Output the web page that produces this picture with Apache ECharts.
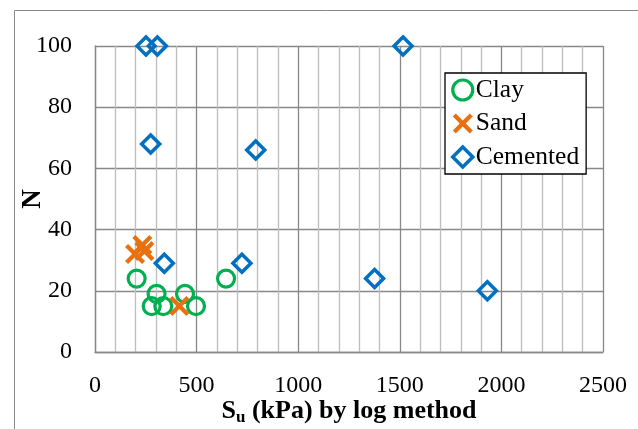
<!DOCTYPE html>
<html>
<head>
<meta charset="utf-8">
<script src="https://cdn.jsdelivr.net/npm/echarts@6/dist/echarts.min.js"></script>
<style>
html,body{margin:0;padding:0;background:#fff;}
#chart{width:638px;height:429px;}
</style>
</head>
<body>
<div id="chart"></div>
<script>
// Data
var clayX = [205, 303, 279, 336, 443, 497, 645];
var clayY = [24, 19, 15, 15, 19, 15, 24];
var sandX = [233, 197, 243, 415];
var sandY = [35, 32, 33, 15];
var cemX = [251, 307, 1516, 274, 791, 341, 723, 1376, 1931];
var cemY = [100, 100, 100, 68, 66, 29, 29, 24, 20];
var xTicks = [0, 500, 1000, 1500, 2000, 2500];
var yTicks = [0, 20, 40, 60, 80, 100];

function pairs(xs, ys){ return xs.map(function(x,i){ return [x, ys[i]]; }); }

var serif = '"Liberation Serif", "Times New Roman", serif';
var crossPath = 'path://M0,1.5 L1.5,0 L5,3.5 L8.5,0 L10,1.5 L6.5,5 L10,8.5 L8.5,10 L5,6.5 L1.5,10 L0,8.5 L3.5,5 Z';
var GREEN = '#00B050', ORANGE = '#E8700E', BLUE = '#0070C0';

var chart = echarts.init(document.getElementById('chart'), null, {renderer:'canvas'});
chart.setOption({
  animation: false,
  backgroundColor: '#fff',
  graphic: [{
    type: 'rect', left: 12, top: 8, shape: {width: 700, height: 500},
    style: {fill: 'none', stroke: '#888', lineWidth: 1}, silent: true
  }],
  grid: {left: 95, right: 35, top: 46, bottom: 77, containLabel: false, outerBoundsMode: 'none'},
  xAxis: {
    type: 'value', min: xTicks[0], max: xTicks[xTicks.length-1], interval: 500,
    axisLine: {show: true, lineStyle: {color: '#888', width: 1.3}},
    axisTick: {show: false},
    minorTick: {show: false, splitNumber: 5},
    splitLine: {show: true, lineStyle: {color: '#888', width: 1.3}},
    minorSplitLine: {show: true, lineStyle: {color: '#bdbdbd', width: 1.3}},
    axisLabel: {color: '#000', fontFamily: serif, fontSize: 24, margin: 22,
      formatter: function(v){ return String(v); }},
    name: '{s|S}{sub|u}{s| (kPa) by log method}',
    nameLocation: 'middle', nameGap: 46, nameMoveOverlap: false,
    nameTextStyle: {
      color: '#000', fontFamily: serif, fontWeight: 'bold',
      rich: {
        s: {fontFamily: serif, fontWeight: 'bold', fontSize: 26, lineHeight: 27, verticalAlign: 'top', color: '#000'},
        sub: {fontFamily: serif, fontWeight: 'bold', fontSize: 17, lineHeight: 19, padding: [11,0,0,0], verticalAlign: 'top', color: '#000'}
      }
    }
  },
  yAxis: {
    type: 'value', min: yTicks[0], max: yTicks[yTicks.length-1], interval: 20,
    axisLine: {show: true, lineStyle: {color: '#888', width: 1.3}},
    axisTick: {show: false},
    splitLine: {show: true, lineStyle: {color: '#888', width: 1.3}},
    axisLabel: {color: '#000', fontFamily: serif, fontSize: 24, margin: 23,
      formatter: function(v){ return String(v); }},
    name: 'N', nameLocation: 'middle', nameGap: 48, nameRotate: 90, nameMoveOverlap: false,
    nameTextStyle: {color: '#000', fontFamily: serif, fontWeight: 'bold', fontSize: 27}
  },
  legend: {
    orient: 'vertical', left: 445, top: 73,
    backgroundColor: '#fff',
    borderColor: '#000', borderWidth: 1.3, borderRadius: 0,
    padding: [4, 7, 4, 6],
    itemGap: 7.5, itemWidth: 20, itemHeight: 20,
    textStyle: {color: '#000', fontFamily: serif, fontSize: 25.5, lineHeight: 25, padding: [0,0,0,-2]},
    data: [
      {name: 'Clay', itemStyle: {color: 'rgba(255,255,255,0)', borderColor: GREEN, borderWidth: 3.2}},
      {name: 'Sand', itemStyle: {color: ORANGE, borderWidth: 0}},
      {name: 'Cemented', itemStyle: {color: 'rgba(255,255,255,0)', borderColor: BLUE, borderWidth: 3.5}}
    ]
  },
  series: [
    {
      name: 'Clay', type: 'scatter', data: pairs(clayX, clayY),
      symbol: 'circle', symbolSize: 17,
      itemStyle: {color: 'rgba(255,255,255,0)', borderColor: GREEN, borderWidth: 3.2, opacity: 1}
    },
    {
      name: 'Sand', type: 'scatter', data: pairs(sandX, sandY),
      symbol: crossPath, symbolSize: 20,
      itemStyle: {color: ORANGE, opacity: 1}
    },
    {
      name: 'Cemented', type: 'scatter', data: pairs(cemX, cemY),
      symbol: 'diamond', symbolSize: 18,
      itemStyle: {color: 'rgba(255,255,255,0)', borderColor: BLUE, borderWidth: 3.5, opacity: 1}
    }
  ]
});
</script>
</body>
</html>
